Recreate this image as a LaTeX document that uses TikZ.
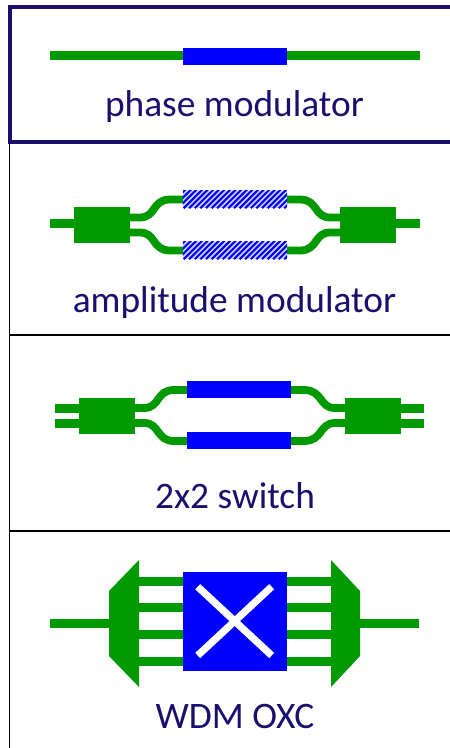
\documentclass[tikz,border=0pt]{standalone}
\usepackage{fontspec}
\setmainfont{Carlito}
\definecolor{wg}{HTML}{009900}
\definecolor{navy}{HTML}{1A0F6E}
\definecolor{mod}{HTML}{0000FF}
\definecolor{modlight}{HTML}{D0D0FF}
\tikzset{
  wire/.style={draw=wg,line width=8.6pt},
  arm/.style={draw=wg,line width=7.8pt},
  block/.style={fill=wg,draw=none,inner sep=0pt,minimum width=56pt,minimum height=36pt},
  bar/.style={fill=mod,draw=none,inner sep=0pt,minimum width=104pt,minimum height=17pt},
  hatched/.style={fill=modlight,draw=none,inner sep=0pt,minimum width=104pt,minimum height=17pt},
  stripe/.style={draw=mod,line width=2.1pt},
  cellrule/.style={draw=black,line width=1.5pt},
  frame/.style={draw=navy,line width=4pt},
  label/.style={text=navy,font=\fontsize{37.4}{40}\selectfont,anchor=base,inner sep=0pt},
  cross/.style={draw=white,line width=7.2pt},
  mux/.style={fill=wg,draw=none},
}
\newcommand{\hatchfill}[1]{%
  \begin{scope}
    \clip (#1.north west) rectangle (#1.south east);
    \foreach \k in {0,...,24}{
      \draw[stripe] ([xshift={\k*5.6pt-16pt}]#1.south west) -- ++(24pt,24pt);
    }
  \end{scope}}
\begin{document}
\begin{tikzpicture}[x=1pt,y=-1pt]
\useasboundingbox (0,0) rectangle (450,748);
\fill[white] (0,0) rectangle (450,748);
% table rules
\coordinate (l0) at (9.5,142);
\coordinate (l1) at (9.5,748);
\coordinate (r1) at (450,335);
\coordinate (r2) at (450,531);
\coordinate (m1) at (9.5,335);
\coordinate (m2) at (9.5,531);
\draw[cellrule] (l0) -- (l1);
\draw[cellrule] (m1) -- (r1);
\draw[cellrule] (m2) -- (r2);
\coordinate (ftr) at (450,7);
\coordinate (ftl) at (10,7);
\coordinate (fbl) at (10,141.5);
\coordinate (fbr) at (450,141.5);
\draw[frame] (ftr) -- (ftl) -- (fbl) -- (fbr);
% phase modulator
\coordinate (pa) at (50,55.5);
\coordinate (pb) at (420,55.5);
\draw[wire] (pa) -- (pb);
\node[bar] (pm) at (235,56.5) {};
\node[label] (pt) at (234.5,116) {phase modulator};
% amplitude modulator
\coordinate (aa) at (50,223.5);
\coordinate (ab) at (420,223.5);
\draw[wire] (aa) -- (74,223.5);
\draw[wire] (396,223.5) -- (ab);
\node[block] (al) at (102,225) {};
\node[block] (ar) at (368,225) {};
\node[hatched] (au) at (235,199.5) {};
\node[hatched] (ad) at (235,250.5) {};
\draw[arm] (130,217.5) -- (140,217.5) .. controls (156,217.5) and (152,199.5) .. (170,199.5) -- (au.west);
\draw[arm] (130,232.5) -- (140,232.5) .. controls (156,232.5) and (152,250.5) .. (170,250.5) -- (ad.west);
\draw[arm] (340,217.5) -- (330,217.5) .. controls (314,217.5) and (318,199.5) .. (300,199.5) -- (au.east);
\draw[arm] (340,232.5) -- (330,232.5) .. controls (314,232.5) and (318,250.5) .. (300,250.5) -- (ad.east);
\hatchfill{au}
\hatchfill{ad}
\node[label] (at) at (234.5,312) {amplitude modulator};
% switch
\coordinate (sa1) at (55,408.5);
\coordinate (sa2) at (55,423.5);
\coordinate (sb1) at (424,408.5);
\coordinate (sb2) at (424,423.5);
\node[block] (sl) at (107,416) {};
\node[block] (sr) at (373,416) {};
\draw[wire] (sa1) -- (79,408.5);
\draw[wire] (sa2) -- (79,423.5);
\draw[wire] (401,408.5) -- (sb1);
\draw[wire] (401,423.5) -- (sb2);
\draw[arm] (135,408) -- (144,408) .. controls (160,408) and (156,390) .. (174,390) -- (200,390);
\draw[arm] (135,423) -- (144,423) .. controls (160,423) and (156,441) .. (174,441) -- (200,441);
\draw[arm] (345,408) -- (335,408) .. controls (319,408) and (323,390) .. (304,390) -- (280,390);
\draw[arm] (345,423) -- (335,423) .. controls (319,423) and (323,441) .. (304,441) -- (280,441);
\node[bar] (su) at (239,389.5) {};
\node[bar] (sd) at (239,440.5) {};
\node[label] (st) at (235,508) {2x2 switch};
% WDM OXC
\coordinate (wa) at (50,623.5);
\coordinate (wb) at (419,623.5);
\draw[wire] (wa) -- (109,623.5);
\draw[wire] (360,623.5) -- (wb);
\foreach \yy in {581.5,607.5,634.5,661.5}{
  \draw[wire] (139,\yy) -- (331,\yy);
}
\fill[mux] (109,591) -- (139,560) -- (139,687) -- (109,656) -- cycle;
\fill[mux] (360,591) -- (331,560) -- (331,687) -- (360,656) -- cycle;
\node[fill=mod,draw=none,inner sep=0pt,minimum width=104pt,minimum height=99pt] (wx) at (235,621.5) {};
\coordinate (x1) at (197.7,586.7);
\coordinate (x2) at (271.7,655.5);
\coordinate (x3) at (197.7,655.5);
\coordinate (x4) at (271.7,586.7);
\draw[cross] (x1) -- (x2);
\draw[cross] (x3) -- (x4);
\node[label] (wt) at (235,728) {WDM OXC};
\end{tikzpicture}
\end{document}
